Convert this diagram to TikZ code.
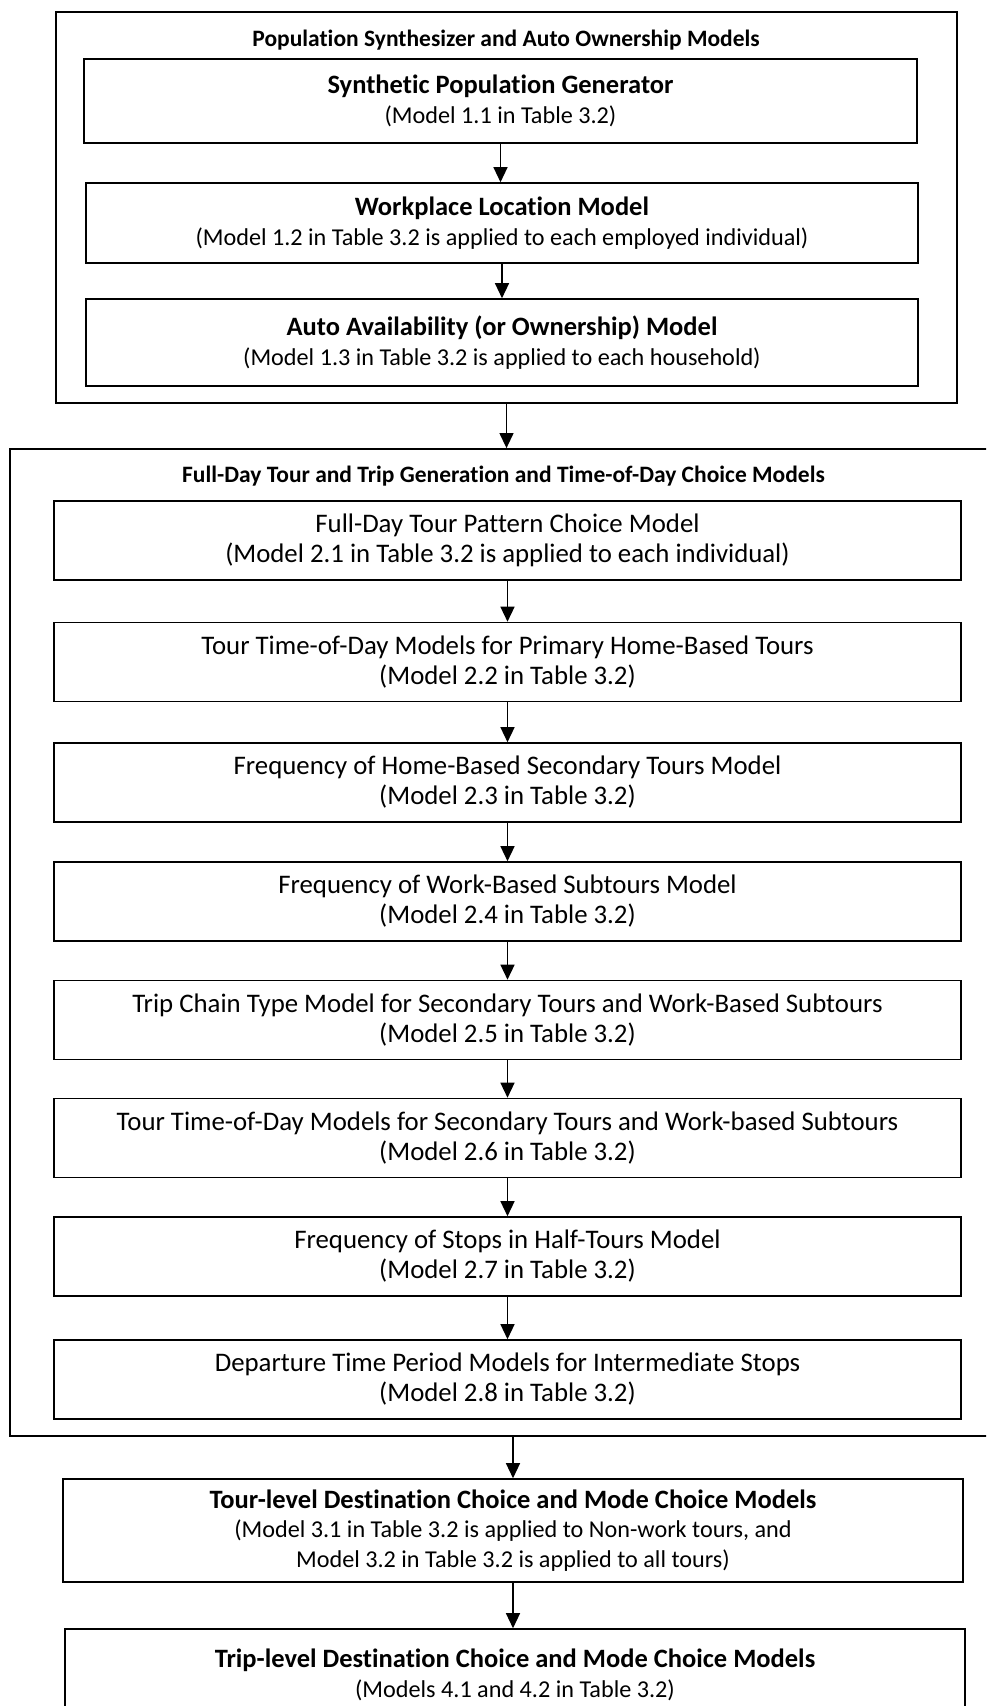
\documentclass[tikz,border=0pt]{standalone}
\usepackage{fontspec}
\setmainfont{Carlito}[Ligatures=NoCommon]
\usetikzlibrary{arrows.meta,calc}
\newcommand\boxhead[1]{{\fontsize{26.5}{29.5}\selectfont\bfseries #1}}
\tikzset{
  frame/.style={draw, line width=1.8pt, inner sep=0pt},
  boxS/.style={draw, line width=1.6pt, align=center, inner sep=0pt, font=\fontsize{24.2}{29.5}\selectfont},
  boxL/.style={draw, line width=1.6pt, align=center, inner sep=0pt, minimum width=907pt, minimum height=79pt, font=\fontsize{26.8}{30}\selectfont},
  ttl/.style={inner sep=0pt, font=\bfseries\fontsize{23.5}{26}\selectfont},
  arr/.style={-{Triangle[length=15pt,width=14pt]}, line width=1.3pt}
}
\begin{document}
\begin{tikzpicture}[x=1pt,y=-1pt]
\useasboundingbox (0,0) rectangle (986,1706);
\clip (0,0) rectangle (986,1706);
% top group
\node[frame, minimum width=901pt, minimum height=391pt] (g1) at (506.5,207.5) {};
\node[ttl] (t1) at (506,40) {Population Synthesizer and Auto Ownership Models};
\node[boxS, minimum width=833pt, minimum height=84pt] (s1) at (500.5,101) {\boxhead{Synthetic Population Generator}\\(Model 1.1 in Table 3.2)};
\node[boxS, minimum width=832pt, minimum height=80pt] (s2) at (502,223) {\boxhead{Workplace Location Model}\\(Model 1.2 in Table 3.2 is applied to each employed individual)};
\node[boxS, minimum width=832pt, minimum height=87pt] (s3) at (502,342.5) {\boxhead{Auto Availability (or Ownership) Model}\\(Model 1.3 in Table 3.2 is applied to each household)};
% second group
\node[frame, minimum width=1000pt, minimum height=987pt] (g2) at (510,942.5) {};
\node[ttl] (t2) at (503.5,476) {Full-Day Tour and Trip Generation and Time-of-Day Choice Models};
\node[boxL] (m1) at (507.5,540.5) {Full-Day Tour Pattern Choice Model\\(Model 2.1 in Table 3.2 is applied to each individual)};
\node[boxL] (m2) at (507.5,662) {Tour Time-of-Day Models for Primary Home-Based Tours\\(Model 2.2 in Table 3.2)};
\node[boxL] (m3) at (507.5,782.5) {Frequency of Home-Based Secondary Tours Model\\(Model 2.3 in Table 3.2)};
\node[boxL] (m4) at (507.5,901.5) {Frequency of Work-Based Subtours Model\\(Model 2.4 in Table 3.2)};
\node[boxL] (m5) at (507.5,1020) {Trip Chain Type Model for Secondary Tours and Work-Based Subtours\\(Model 2.5 in Table 3.2)};
\node[boxL] (m6) at (507.5,1138) {Tour Time-of-Day Models for Secondary Tours and Work-based Subtours\\(Model 2.6 in Table 3.2)};
\node[boxL] (m7) at (507.5,1256.5) {Frequency of Stops in Half-Tours Model\\(Model 2.7 in Table 3.2)};
\node[boxL] (m8) at (507.5,1379.5) {Departure Time Period Models for Intermediate Stops\\(Model 2.8 in Table 3.2)};
% bottom boxes
\node[boxS, minimum width=900pt, minimum height=103pt] (b1) at (513,1530.5) {\boxhead{Tour-level Destination Choice and Mode Choice Models}\\(Model 3.1 in Table 3.2 is applied to Non-work tours, and\\Model 3.2 in Table 3.2 is applied to all tours)};
\node[boxS, minimum width=900pt, minimum height=92pt] (b2) at (515,1675) {\boxhead{Trip-level Destination Choice and Mode Choice Models}\\(Models 4.1 and 4.2 in Table 3.2)};
% arrows
\draw[arr] (s1.south) -- (s1.south |- s2.north);
\draw[arr] (s2.south) -- (s2.south |- s3.north);
\draw[arr] (g1.south) -- (g1.south |- g2.north);
\foreach \a/\b in {m1/m2,m2/m3,m3/m4,m4/m5,m5/m6,m6/m7,m7/m8}
  \draw[arr] (\a.south) -- (\a.south |- \b.north);
\draw[arr] (b1.north |- g2.south) -- (b1.north);
\draw[arr] (b1.south) -- (b1.south |- b2.north);
\end{tikzpicture}
\end{document}
